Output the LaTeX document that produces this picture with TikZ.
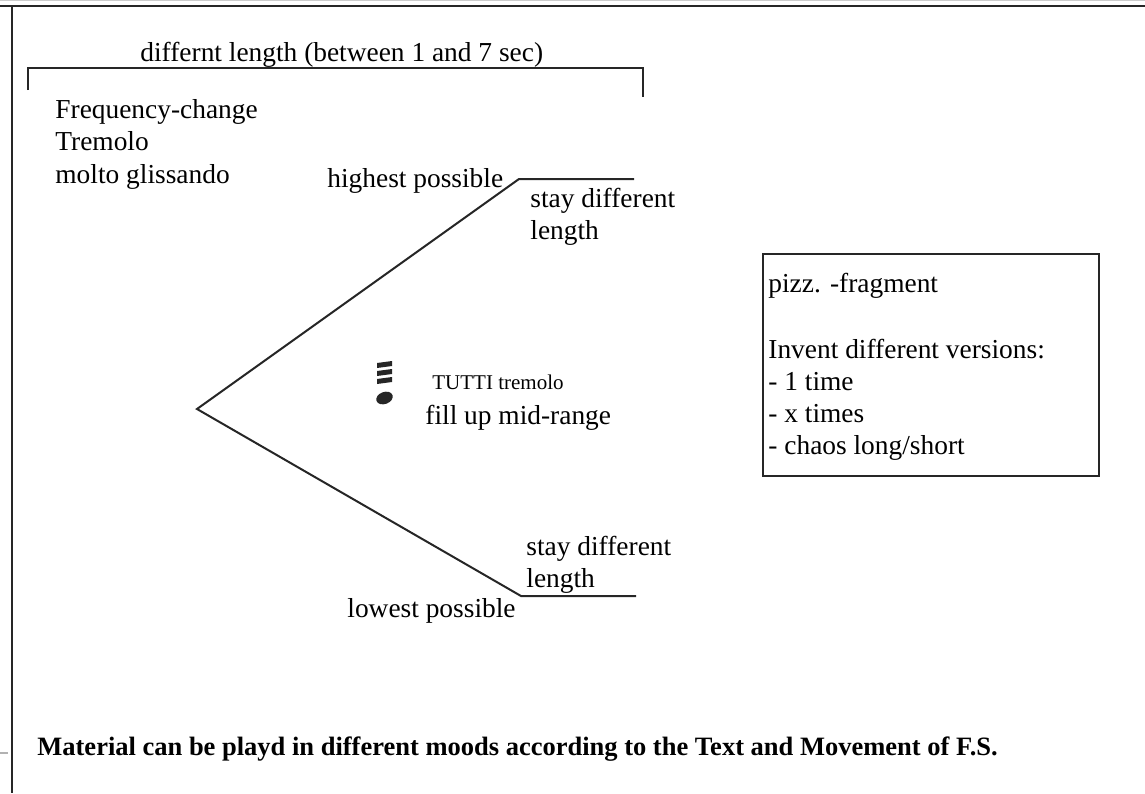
\documentclass[tikz,border=0pt]{standalone}
\usepackage{fontspec}
\setmainfont{Liberation Serif}
\begin{document}
\begin{tikzpicture}[x=0.5pt,y=-0.5pt,
    lbl/.style={anchor=base west,inner sep=0pt,font=\fontsize{13.7}{16}\selectfont},
    small/.style={anchor=base west,inner sep=0pt,font=\fontsize{10.5}{12}\selectfont},
    wire/.style={line width=1pt,black!85}]
    \useasboundingbox (0,0) rectangle (1145,793);

    % page frame
    \draw[gray!40,line width=0.6pt] (0,0.6) -- (1145,0.6);
    \draw[black!85,line width=1.2pt] (0,6) -- (1145,6);
    \draw[black!85,line width=1pt] (12,6) -- (12,793);
    \draw[gray!60,line width=0.8pt] (0,753) -- (8,753);

    % duration bracket
    \node[lbl] (title) at (140,61) {differnt length (between 1 and 7 sec)};
    \draw[wire] (28,90) -- (28,68) -- (643,68) -- (643,97);

    \node[lbl] (freq) at (55,118) {Frequency-change};
    \node[lbl] (trem) at (55,150) {Tremolo};
    \node[lbl] (molto) at (55,183) {molto glissando};

    % glissando fan
    \coordinate (start) at (197,409);
    \coordinate (hi) at (519,179);
    \coordinate (hiend) at (634,179);
    \coordinate (lo) at (521,596);
    \coordinate (loend) at (636,596);
    \draw[wire] (hiend) -- (hi) -- (start) -- (lo) -- (loend);

    \node[lbl] (highest) at (327,187) {highest possible};
    \node[lbl] (stayhi) at (530,207) {stay different};
    \node[lbl] (lenhi) at (530,239) {length};
    \node[lbl] (staylo) at (526,555) {stay different};
    \node[lbl] (lenlo) at (526,587) {length};
    \node[lbl] (lowest) at (347,617) {lowest possible};

    % tremolo note
    \foreach \y in {362,370,378}
        \fill[black!85] (377,\y+1) -- (392,\y-1) -- (392,\y+4) -- (377,\y+6) -- cycle;
    \fill[black!85,rotate around={20:(384.5,398)}] (384.5,398) ellipse (8.5 and 6);
    \node[small] (tutti) at (432,389) {TUTTI tremolo};
    \node[lbl] (fill) at (425,424) {fill up mid-range};

    % pizzicato box
    \draw[wire] (763,254) rectangle (1099,476);
    \node[lbl] (pizz) at (768,292) {pizz. -fragment};
    \node[lbl] (invent) at (768,358) {Invent different versions:};
    \node[lbl] (one) at (768,390) {- 1 time};
    \node[lbl] (xtimes) at (768,422) {- x times};
    \node[lbl] (chaos) at (768,454) {- chaos long/short};

    \node[lbl,font=\bfseries\fontsize{13.25}{15}\selectfont] (mood) at (37,755)
        {Material can be playd in different moods according to the Text and Movement of F.S.};
\end{tikzpicture}
\end{document}
